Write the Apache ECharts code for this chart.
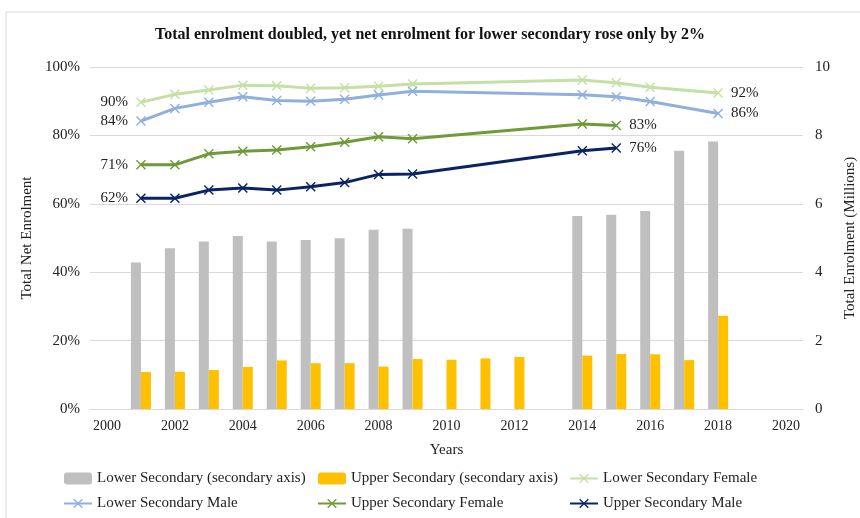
<!DOCTYPE html>
<html>
<head>
<meta charset="utf-8">
<script src="https://cdn.jsdelivr.net/npm/echarts@6/dist/echarts.min.js"></script>
<style>
  html, body { margin: 0; padding: 0; background: #fff; }
  #main { width: 860px; height: 518px; }
</style>
</head>
<body>
<div id="main"></div>
<script>
// years on the category axis
var years = [];
for (var y = 2000; y <= 2020; y++) years.push(String(y));

// enrolment in millions (secondary axis)
var lowerTotal = [null, 4.28, 4.70, 4.90, 5.06, 4.90, 4.94, 4.99, 5.24, 5.27, null, null, null, null, 5.64, 5.68, 5.79, 7.55, 7.82, null, null];
var upperTotal = [null, 1.08, 1.09, 1.14, 1.23, 1.42, 1.34, 1.34, 1.24, 1.46, 1.44, 1.48, 1.52, null, 1.56, 1.61, 1.60, 1.43, 2.73, null, null];

// net enrolment in %
var lowerFemale = [null, 89.7, 92.0, 93.3, 94.7, 94.5, 93.8, 93.9, 94.4, 95.0, null, null, null, null, 96.2, 95.4, 94.1, null, 92.4, null, null];
var lowerMale   = [null, 84.2, 87.9, 89.7, 91.3, 90.2, 90.0, 90.6, 91.8, 92.9, null, null, null, null, 91.9, 91.3, 89.9, null, 86.4, null, null];
var upperFemale = [null, 71.4, 71.4, 74.6, 75.4, 75.7, 76.7, 78.0, 79.6, 79.0, null, null, null, null, 83.3, 82.9, null, null, null, null, null];
var upperMale   = [null, 61.6, 61.6, 64.0, 64.6, 64.0, 65.0, 66.2, 68.6, 68.7, null, null, null, null, 75.5, 76.3, null, null, null, null, null];

var font = 'Liberation Serif';
var xMark = 'path://M0,1L1,0L5,4L9,0L10,1L6,5L10,9L9,10L5,6L1,10L0,9L4,5Z';

// put a % label on the first and last point of a line
function withEndLabels(arr) {
    var first = -1, last = -1;
    for (var i = 0; i < arr.length; i++) {
        if (arr[i] != null) { if (first < 0) first = i; last = i; }
    }
    return arr.map(function (v, i) {
        if (i === first || i === last) {
            return {
                value: v,
                label: {
                    show: true,
                    position: i === first ? 'left' : 'right',
                    distance: 8,
                    formatter: Math.round(v) + '%',
                    fontFamily: font, fontSize: 15, color: '#222'
                }
            };
        }
        return v;
    });
}

function lineSeries(name, data, color) {
    return {
        name: name,
        type: 'line',
        yAxisIndex: 0,
        data: withEndLabels(data),
        connectNulls: true,
        symbol: xMark,
        symbolSize: 10,
        showAllSymbol: true,
        lineStyle: { color: color, width: 3 },
        itemStyle: { color: color },
        z: 5
    };
}

var myChart = echarts.init(document.getElementById('main'));

var legendText = { fontFamily: font, fontSize: 15, color: '#222' };

var option = {
    backgroundColor: '#fff',
    animation: false,
    title: {
        text: 'Total enrolment doubled, yet net enrolment for lower secondary rose only by 2%',
        left: 'center',
        top: 22,
        textStyle: { fontFamily: font, fontWeight: 'bold', fontSize: 16, color: '#111' }
    },
    graphic: [{
        type: 'rect',
        shape: { x: 6, y: 12, width: 900, height: 600 },
        style: { fill: 'none', stroke: '#d9d9d9', lineWidth: 1 },
        silent: true
    }],
    legend: [{
        orient: 'vertical', left: 58, top: 466, itemGap: 10, itemWidth: 28, itemHeight: 12,
        textStyle: legendText,
        data: ['Lower Secondary (secondary axis)', 'Lower Secondary Male']
    }, {
        orient: 'vertical', left: 312, top: 466, itemGap: 10, itemWidth: 28, itemHeight: 12,
        textStyle: legendText,
        data: ['Upper Secondary (secondary axis)', 'Upper Secondary Female']
    }, {
        orient: 'vertical', left: 564, top: 466, itemGap: 10, itemWidth: 28, itemHeight: 12,
        textStyle: legendText,
        data: ['Lower Secondary Female', 'Upper Secondary Male']
    }],
    grid: { left: 90, right: 57, top: 67, bottom: 109, outerBoundsMode: 'none' },
    xAxis: {
        type: 'category',
        data: years,
        name: 'Years',
        nameLocation: 'middle',
        nameGap: 34,
        nameTextStyle: { fontFamily: font, fontSize: 15, color: '#222' },
        axisLine: { lineStyle: { color: '#d9d9d9' } },
        axisTick: { show: false },
        axisLabel: { interval: 1, fontFamily: font, fontSize: 14, color: '#222', margin: 10 }
    },
    yAxis: [{
        type: 'value',
        min: 0, max: 100, interval: 20,
        name: 'Total Net Enrolment',
        nameLocation: 'middle',
        nameGap: 52,
        nameRotate: 90,
        nameTextStyle: { fontFamily: font, fontSize: 15, color: '#222' },
        axisLabel: { formatter: '{value}%', fontFamily: font, fontSize: 15, color: '#222', margin: 10 },
        axisLine: { show: false },
        axisTick: { show: false },
        splitLine: { lineStyle: { color: '#d9d9d9' } }
    }, {
        type: 'value',
        min: 0, max: 10, interval: 2,
        position: 'right',
        name: 'Total Enrolment (Millions)',
        nameLocation: 'middle',
        nameGap: 40,
        nameRotate: 90,
        nameTextStyle: { fontFamily: font, fontSize: 15, color: '#222' },
        axisLabel: { fontFamily: font, fontSize: 15, color: '#222', margin: 12 },
        axisLine: { show: false },
        axisTick: { show: false },
        splitLine: { show: false }
    }],
    series: [{
        name: 'Lower Secondary (secondary axis)',
        type: 'bar',
        yAxisIndex: 1,
        data: lowerTotal,
        barWidth: 10,
        barGap: '0%',
        itemStyle: { color: '#bfbfbf' }
    }, {
        name: 'Upper Secondary (secondary axis)',
        type: 'bar',
        yAxisIndex: 1,
        data: upperTotal,
        barWidth: 10,
        barGap: '0%',
        itemStyle: { color: '#ffc000' }
    },
        lineSeries('Lower Secondary Female', lowerFemale, '#c5e0a5'),
        lineSeries('Lower Secondary Male', lowerMale, '#8fb0dc'),
        lineSeries('Upper Secondary Female', upperFemale, '#6f9a37'),
        lineSeries('Upper Secondary Male', upperMale, '#0a2463')
    ]
};

myChart.setOption(option);
</script>
</body>
</html>
